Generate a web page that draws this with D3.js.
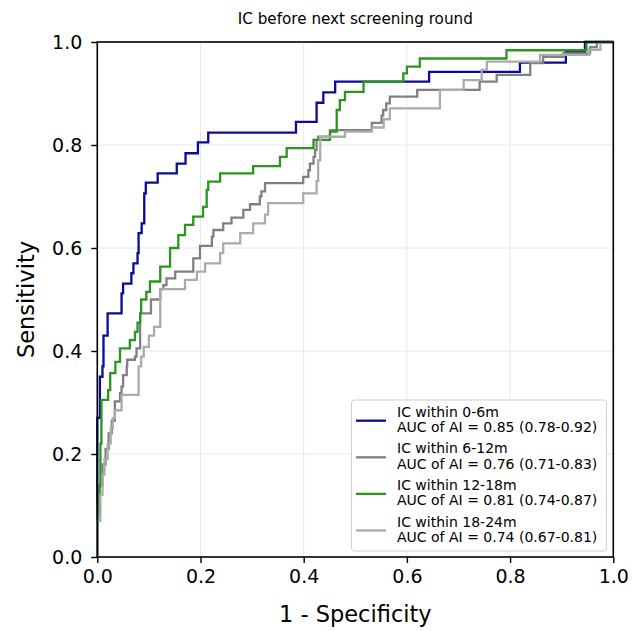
<!DOCTYPE html>
<html>
<head>
<meta charset="utf-8">
<script src="https://cdn.jsdelivr.net/npm/d3@7"></script>
<style>
  body { margin: 0; background: #fff; }
  text { font-family: "DejaVu Sans", sans-serif; fill: #000; }
</style>
</head>
<body>
<div id="chart"></div>
<script>
// ROC points: [1 - specificity, sensitivity],
// sensitivity is the level reached after the step at that x
var roc0to6 = [[0,0.27],[0.005,0.35],[0.01,0.37],[0.012,0.43],[0.02,0.473],[0.047,0.512],[0.05,0.531],
  [0.066,0.551],[0.07,0.57],[0.078,0.59],[0.08,0.629],[0.086,0.648],[0.091,0.706],[0.094,0.727],
  [0.117,0.745],[0.154,0.764],[0.171,0.784],[0.195,0.805],[0.215,0.824],[0.385,0.845],[0.425,0.882],
  [0.438,0.902],[0.461,0.923],[0.643,0.942],[0.819,0.96],[0.908,0.981],[0.945,1],[1,1]];

var roc6to12 = [[0,0.08],[0.004,0.14],[0.01,0.18],[0.016,0.21],[0.022,0.24],[0.028,0.265],[0.034,0.302],
  [0.044,0.318],[0.047,0.331],[0.05,0.353],[0.057,0.37],[0.058,0.383],[0.073,0.389],[0.076,0.405],
  [0.083,0.473],[0.104,0.5],[0.122,0.52],[0.128,0.528],[0.134,0.541],[0.151,0.554],[0.186,0.58],
  [0.199,0.604],[0.222,0.622],[0.225,0.635],[0.244,0.648],[0.26,0.659],[0.283,0.674],[0.296,0.685],
  [0.315,0.7],[0.318,0.71],[0.325,0.726],[0.399,0.738],[0.409,0.751],[0.412,0.764],[0.419,0.777],
  [0.422,0.79],[0.425,0.81],[0.428,0.816],[0.451,0.829],[0.532,0.843],[0.551,0.857],[0.554,0.868],
  [0.56,0.881],[0.567,0.894],[0.62,0.907],[0.741,0.923],[0.774,0.936],[0.839,0.959],[0.864,0.971],
  [0.903,0.978],[0.955,0.99],[0.968,1],[1,1]];

var roc12to18 = [[0,0.1],[0.004,0.137],[0.006,0.22],[0.008,0.305],[0.021,0.324],[0.025,0.357],[0.035,0.379],
  [0.044,0.405],[0.063,0.421],[0.073,0.437],[0.078,0.455],[0.083,0.473],[0.085,0.5],[0.095,0.515],
  [0.102,0.535],[0.122,0.564],[0.141,0.6],[0.157,0.625],[0.17,0.645],[0.186,0.661],[0.205,0.68],
  [0.212,0.713],[0.215,0.729],[0.238,0.745],[0.302,0.759],[0.354,0.777],[0.367,0.794],[0.419,0.81],
  [0.451,0.826],[0.464,0.868],[0.47,0.887],[0.48,0.903],[0.516,0.923],[0.593,0.939],[0.6,0.952],
  [0.625,0.968],[0.793,0.984],[0.948,1],[1,1]];

var roc18to24 = [[0,0.07],[0.006,0.12],[0.01,0.16],[0.014,0.19],[0.02,0.22],[0.026,0.25],[0.03,0.27],
  [0.034,0.285],[0.047,0.315],[0.08,0.37],[0.085,0.389],[0.09,0.408],[0.1,0.43],[0.11,0.447],
  [0.122,0.52],[0.17,0.538],[0.193,0.554],[0.209,0.57],[0.238,0.59],[0.244,0.609],[0.277,0.629],
  [0.302,0.648],[0.325,0.665],[0.331,0.687],[0.399,0.706],[0.425,0.73],[0.428,0.77],[0.432,0.816],
  [0.48,0.826],[0.532,0.834],[0.555,0.85],[0.567,0.871],[0.664,0.907],[0.71,0.926],[0.745,0.946],
  [0.755,0.962],[0.858,0.975],[0.953,0.985],[0.975,1],[1,1]];

var seriesNames = ["IC within 0-6m", "IC within 6-12m", "IC within 12-18m", "IC within 18-24m"];
var aucLabels = ["AUC of AI = 0.85 (0.78-0.92)", "AUC of AI = 0.76 (0.71-0.83)",
  "AUC of AI = 0.81 (0.74-0.87)", "AUC of AI = 0.74 (0.67-0.81)"];
var seriesColors = ["#0b0b96", "#808080", "#2a961e", "#ababab"];
var ticks = [0, 0.2, 0.4, 0.6, 0.8, 1.0];

var W = 633, H = 631;
var plotL = 97.3, plotR = 613.3, plotT = 42, plotB = 557;

var svg = d3.select("#chart").append("svg")
    .attr("width", W)
    .attr("height", H);

svg.append("rect").attr("width", W).attr("height", H).attr("fill", "#fff");

var x = d3.scaleLinear().domain([0, 1]).range([plotL, plotR]);
var y = d3.scaleLinear().domain([0, 1]).range([plotB, plotT]);

// grid
svg.append("g").selectAll("line").data(ticks).join("line")
    .attr("x1", d => x(d)).attr("x2", d => x(d))
    .attr("y1", plotT).attr("y2", plotB)
    .attr("stroke", "#e8e8e8").attr("stroke-width", 1);
svg.append("g").selectAll("line").data(ticks).join("line")
    .attr("y1", d => y(d)).attr("y2", d => y(d))
    .attr("x1", plotL).attr("x2", plotR)
    .attr("stroke", "#e8e8e8").attr("stroke-width", 1);

// curves
var line = d3.line()
    .x(d => x(d[0]))
    .y(d => y(d[1]))
    .curve(d3.curveStepAfter);

var allRoc = [roc0to6, roc6to12, roc12to18, roc18to24];
allRoc.forEach(function(pts, i) {
  svg.append("path")
      .datum([[0, 0]].concat(pts))
      .attr("d", line)
      .attr("fill", "none")
      .attr("stroke", seriesColors[i])
      .attr("stroke-width", 2.3);
});

// axes
var xAxis = svg.append("g")
    .attr("transform", "translate(0," + plotB + ")")
    .call(d3.axisBottom(x).tickValues(ticks).tickFormat(d3.format(".1f")).tickSize(6).tickPadding(7));
var yAxis = svg.append("g")
    .attr("transform", "translate(" + plotL + ",0)")
    .call(d3.axisLeft(y).tickValues(ticks).tickFormat(d3.format(".1f")).tickSize(6).tickPadding(9));

[xAxis, yAxis].forEach(function(g) {
  g.select(".domain").remove();
  g.selectAll(".tick line").attr("stroke", "#000").attr("stroke-width", 1.4);
  g.selectAll(".tick text").attr("font-size", 19).attr("font-family", "DejaVu Sans").attr("fill", "#000");
});

// frame
svg.append("rect")
    .attr("x", plotL).attr("y", plotT)
    .attr("width", plotR - plotL).attr("height", plotB - plotT)
    .attr("fill", "none").attr("stroke", "#000").attr("stroke-width", 1.6);

// titles
svg.append("text")
    .attr("x", (plotL + plotR) / 2).attr("y", 24)
    .attr("text-anchor", "middle").attr("font-size", 15.2)
    .text("IC before next screening round");
svg.append("text")
    .attr("x", (plotL + plotR) / 2).attr("y", 622)
    .attr("text-anchor", "middle").attr("font-size", 22.5)
    .text("1 - Specificity");
svg.append("text")
    .attr("transform", "translate(34," + (plotT + plotB) / 2 + ") rotate(-90)")
    .attr("text-anchor", "middle").attr("font-size", 22.5)
    .text("Sensitivity");

// legend
var lg = svg.append("g");
lg.append("rect")
    .attr("x", 351.5).attr("y", 400).attr("width", 255).attr("height", 151).attr("rx", 3)
    .attr("fill", "#fff").attr("fill-opacity", 0.85)
    .attr("stroke", "#d0d0d0").attr("stroke-width", 1);
seriesNames.forEach(function(name, i) {
  var hy = 420.7 + i * 36.6;
  lg.append("line")
      .attr("x1", 356).attr("x2", 386).attr("y1", hy).attr("y2", hy)
      .attr("stroke", seriesColors[i]).attr("stroke-width", 2.3);
  lg.append("text").attr("x", 397).attr("y", hy - 4).attr("font-size", 14).text(name);
  lg.append("text").attr("x", 397).attr("y", hy + 11.5).attr("font-size", 14).text(aucLabels[i]);
});
</script>
</body>
</html>
